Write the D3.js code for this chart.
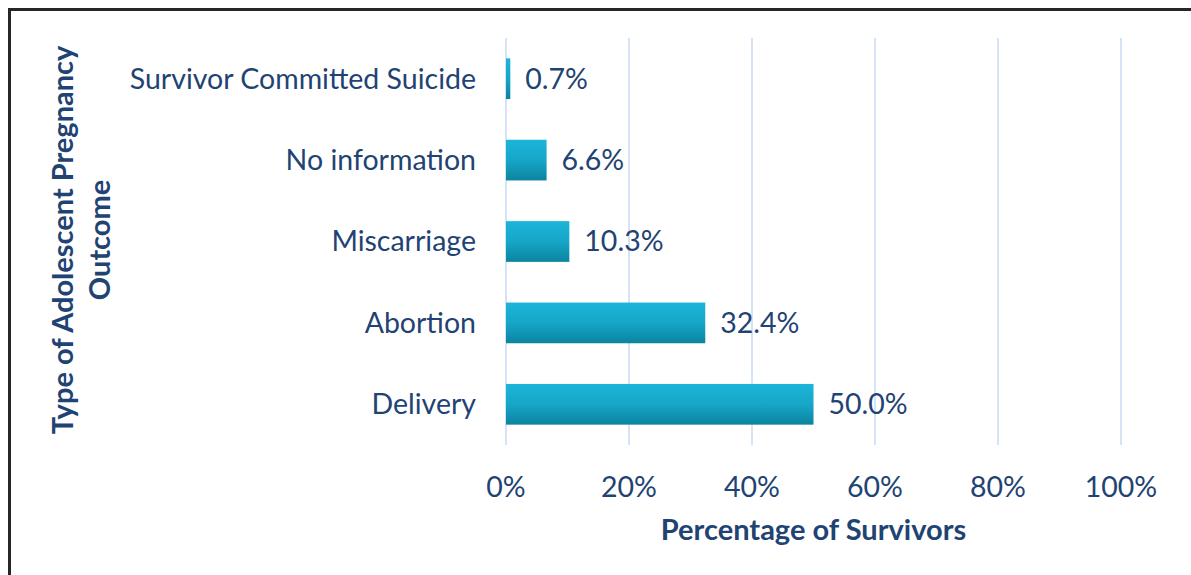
<!DOCTYPE html>
<html><head><meta charset="utf-8">
<script src="https://cdn.jsdelivr.net/npm/d3@7"></script>
<style>body{margin:0;background:#fff}svg{display:block}</style>
</head><body><svg id="c" width="1191" height="575"></svg>
<script>
const categories = ["Survivor Committed Suicide","No information","Miscarriage","Abortion","Delivery"];
const values = [0.7, 6.6, 10.3, 32.4, 50.0];
const xTicks = [0,20,40,60,80,100];
const xTitle = "Percentage of Survivors";
const yTitleLines = ["Type of Adolescent Pregnancy","Outcome"];

const W=1191,H=575, pL=506, pR=1121, pT=38, pB=445;
const txt="#1F4372", font="Lato, 'Open Sans', sans-serif", fs=28.5, fb=29;
const svg=d3.select("#c");
const defs=svg.append("defs");
const g=defs.append("linearGradient").attr("id","bg").attr("x1",0).attr("x2",0).attr("y1",0).attr("y2",1);
g.append("stop").attr("offset","0%").attr("stop-color","#1CB5DA");
g.append("stop").attr("offset","50%").attr("stop-color","#16A6C8");
g.append("stop").attr("offset","100%").attr("stop-color","#0B849F");

svg.append("path").attr("d",`M9.5,${H} V9.5 H${W}`).attr("fill","none").attr("stroke","#262626").attr("stroke-width",3);

const x=d3.scaleLinear().domain([0,100]).range([pL,pR]);
const y=d3.scaleBand().domain(categories).range([pT,pB]).paddingInner(0.5).paddingOuter(0.25);

svg.append("g").selectAll("line").data(xTicks).join("line")
 .attr("x1",d=>x(d)).attr("x2",d=>x(d)).attr("y1",pT).attr("y2",pB)
 .attr("stroke","#D6E3F5").attr("stroke-width",2);

svg.append("g").selectAll("rect").data(values).join("rect")
 .attr("x",x(0)).attr("y",(d,i)=>y(categories[i])).attr("width",d=>x(d)-x(0)).attr("height",y.bandwidth())
 .attr("fill","url(#bg)");

svg.append("g").selectAll("text").data(values).join("text")
 .attr("x",d=>x(d)+15).attr("y",(d,i)=>y(categories[i])+y.bandwidth()/2).attr("dy","0.35em")
 .attr("fill",txt).attr("font-family",font).attr("font-size",fs).text(d=>d.toFixed(1)+"%");

svg.append("g").selectAll("text").data(categories).join("text")
 .attr("x",pL-30).attr("y",d=>y(d)+y.bandwidth()/2).attr("dy","0.35em").attr("text-anchor","end")
 .attr("fill",txt).attr("font-family",font).attr("font-size",fs).text(d=>d);

svg.append("g").selectAll("text").data(xTicks).join("text")
 .attr("x",d=>x(d)).attr("y",487).attr("dy","0.35em").attr("text-anchor","middle")
 .attr("fill",txt).attr("font-family",font).attr("font-size",fs).text(d=>d+"%");

svg.append("text").attr("x",(pL+pR)/2).attr("y",530).attr("dy","0.35em").attr("text-anchor","middle")
 .attr("fill",txt).attr("font-family",font).attr("font-size",fb).attr("font-weight","bold").text(xTitle);

const yt=svg.append("text").attr("transform","translate(81,240) rotate(-90)").attr("text-anchor","middle")
 .attr("fill",txt).attr("font-family",font).attr("font-size",fb).attr("font-weight","bold");
yTitleLines.forEach((l,i)=>yt.append("tspan").attr("x",0).attr("y",(i-0.5)*37).attr("dy","0.35em").text(l));
</script></body></html>
